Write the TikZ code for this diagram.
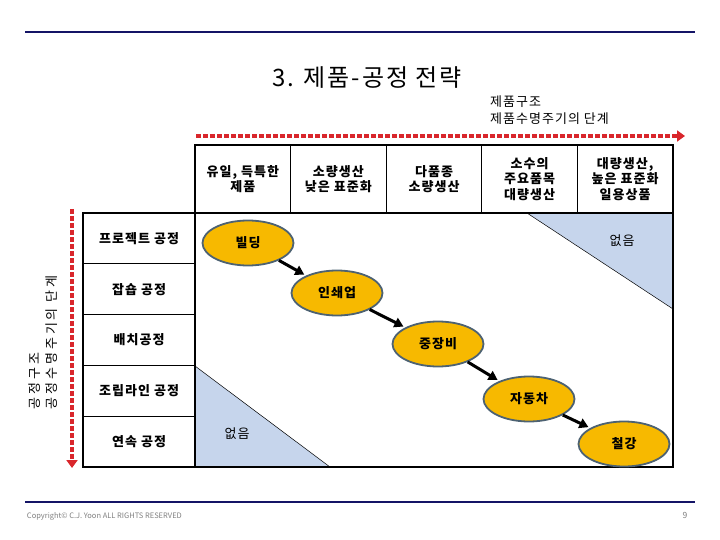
\documentclass[tikz,border=0pt]{standalone}
\usepackage{fontspec}
\setmainfont{Noto Sans CJK KR}
\newfontfamily\krwide[LetterSpace=8]{Noto Sans CJK KR}
\newfontfamily\krvert[LetterSpace=22]{Noto Sans CJK KR}
\usepackage{tikz}
\usetikzlibrary{shapes.geometric, arrows.meta, positioning}
\definecolor{slidenavy}{HTML}{141466}
\definecolor{dashred}{HTML}{D9262B}
\definecolor{procgold}{HTML}{F7B900}
\definecolor{procedge}{HTML}{4D6272}
\definecolor{noneblue}{HTML}{C6D5EC}
\definecolor{footgray}{HTML}{7F7F7F}

\begin{document}
\begin{tikzpicture}[
    x=1pt, y=-1pt,
    every node/.style={inner sep=0pt, outer sep=0pt},
    cell/.style={draw, line width=1.2pt, minimum width=95.6pt, minimum height=68pt, align=center, font=\krwide\fontsize{13}{15.5}\selectfont\bfseries},
    rowcell/.style={draw, line width=1.2pt, minimum width=112pt, minimum height=50.8pt, font=\krwide\fontsize{13}{15}\selectfont\bfseries},
    proc/.style={ellipse, draw=procedge, line width=1.8pt, fill=procgold, minimum width=91pt, minimum height=45pt, font=\krwide\fontsize{13}{15}\selectfont\bfseries},
    flow/.style={-{Triangle[length=9pt, width=10pt]}, line width=3pt, shorten <=1pt, shorten >=3pt},
    redarrow/.style={draw=dashred, line width=3.5pt, dash pattern=on 5pt off 2pt, -{Triangle[length=8pt, width=11pt]}},
    rule/.style={draw=slidenavy, line width=2pt},
    lbl/.style={font=\krwide\fontsize{13}{17}\selectfont, align=left}
]
    \useasboundingbox (0,0) rectangle (720,540);

    % top and bottom rules
    \coordinate (tl) at (25,32);
    \coordinate (tr) at (695,32);
    \coordinate (bl) at (25,502);
    \coordinate (br) at (695,502);
    \draw[rule] (tl) -- (tr);
    \draw[rule] (bl) -- (br);

    \node[font=\krwide\fontsize{24}{28}\selectfont] (title) at (367,78) {3. 제품-공정 전략};
    \node[lbl, anchor=west] (prodlbl) at (490,110) {제품구조\\제품수명주기의 단계};

    % header row
    \node[cell, anchor=north west] (h1) at (195,145) {유일, 득특한\\제품};
    \node[cell, right=0pt of h1] (h2) {소량생산\\낮은 표준화};
    \node[cell, right=0pt of h2] (h3) {다품종\\소량생산};
    \node[cell, right=0pt of h3] (h4) {소수의\\주요품목\\대량생산};
    \node[cell, right=0pt of h4] (h5) {대량생산,\\높은 표준화\\일용상품};

    % process rows
    \node[rowcell, anchor=north east] (r1) at (195,213) {프로젝트 공정};
    \node[rowcell, below=0pt of r1] (r2) {잡숍 공정};
    \node[rowcell, below=0pt of r2] (r3) {배치공정};
    \node[rowcell, below=0pt of r3] (r4) {조립라인 공정};
    \node[rowcell, below=0pt of r4] (r5) {연속 공정};

    % empty corners
    \fill[noneblue] (527,213) -- (673,213) -- (673,309) -- cycle;
    \draw[line width=0.5pt] (527,213) -- (673,309);
    \fill[noneblue] (195,366) -- (195,467) -- (330,467) -- cycle;
    \draw[line width=0.5pt] (195,366) -- (330,467);
    \node[lbl] (none1) at (622,241) {없음};
    \node[lbl] (none2) at (237,434) {없음};
    \draw[line width=1.2pt] (195,213) rectangle (673,467);

    % red axes
    \coordinate (xstart) at (196,136);
    \coordinate (xend) at (685,136);
    \coordinate (ystart) at (72,209);
    \coordinate (yend) at (72,468);
    \draw[redarrow] (xstart) -- (xend);
    \draw[redarrow] (ystart) -- (yend);
    \node[rotate=90, anchor=west, align=left, font=\krvert\fontsize{13}{16.5}\selectfont] (proclbl) at (43,409) {공정구조\\공정수명주기의 단계};

    % product-process fits
    \node[proc] (build) at (248,243) {빌딩};
    \node[proc] (print) at (337,293) {인쇄업};
    \node[proc] (heavy) at (438,344) {중장비};
    \node[proc] (auto) at (529,399) {자동차};
    \node[proc] (steel) at (624,444) {철강};

    \draw[flow] (build) -- (print);
    \draw[flow] (print) -- (heavy);
    \draw[flow] (heavy) -- (auto);
    \draw[flow] (auto) -- (steel);

    % footer
    \node[anchor=west, font=\fontsize{7.5}{9}\selectfont, text=footgray] (copy) at (27,516) {Copyright© C.J. Yoon ALL RIGHTS RESERVED};
    \node[font=\fontsize{8.5}{10}\selectfont, text=footgray] (page) at (685,515) {9};
\end{tikzpicture}
\end{document}
